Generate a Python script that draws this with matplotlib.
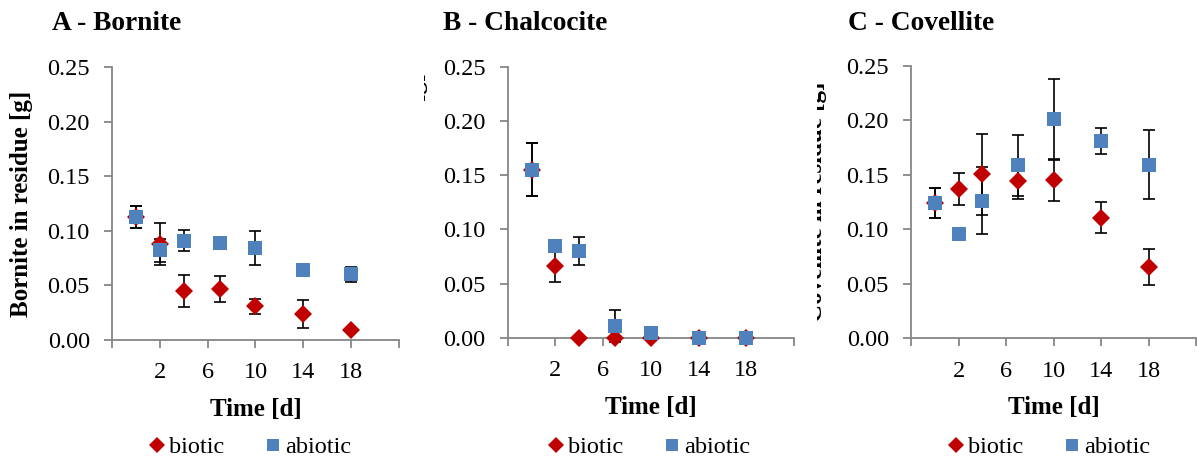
import matplotlib
matplotlib.use("Agg")
import matplotlib.pyplot as plt
from matplotlib.lines import Line2D
from matplotlib.transforms import Bbox, TransformedBbox

# ---------------- data ----------------
days = [0, 2, 4, 7, 10, 14, 18]

bornite_biotic = [0.113, 0.088, 0.045, 0.047, 0.031, 0.024, 0.009]
bornite_biotic_err = [0.010, 0.0195, 0.0145, 0.012, 0.007, 0.013, 0.002]
bornite_abiotic = [0.113, 0.082, 0.091, 0.089, 0.084, 0.064, 0.060]
bornite_abiotic_err = [0.010, 0.0106, 0.0095, 0.002, 0.0155, 0.002, 0.007]

chalcocite_biotic = [0.155, 0.066, 0.0, 0.0, 0.0, 0.0, 0.0]
chalcocite_biotic_err = [0.0245, 0.015, 0.0, 0.0, 0.0, 0.0, 0.0]
chalcocite_abiotic = [0.155, 0.085, 0.080, 0.011, 0.004, 0.0, 0.0]
chalcocite_abiotic_err = [0.0245, 0.003, 0.0125, 0.015, 0.002, 0.0, 0.0]

covellite_biotic = [0.124, 0.137, 0.1506, 0.1444, 0.1454, 0.1108, 0.0658]
covellite_biotic_err = [0.014, 0.015, 0.037, 0.0166, 0.019, 0.014, 0.0165]
covellite_abiotic = [0.124, 0.0958, 0.1264, 0.159, 0.201, 0.181, 0.1594]
covellite_abiotic_err = [0.014, 0.002, 0.031, 0.028, 0.037, 0.012, 0.0315]

titles = ["A - Bornite", "B - Chalcocite", "C - Covellite"]
ylabels = ["Bornite in residue [g]", "Chalcocite in residue [g]", "Covellite in residue [g]"]
series_labels = ["biotic", "abiotic"]
x_ticks = [-2, 2, 6, 10, 14, 18, 22]
x_ticklabels = ["", "2", "6", "10", "14", "18", ""]
y_ticks = [0.0, 0.05, 0.10, 0.15, 0.20, 0.25]

panels = [
    (bornite_biotic, bornite_biotic_err, bornite_abiotic, bornite_abiotic_err),
    (chalcocite_biotic, chalcocite_biotic_err, chalcocite_abiotic, chalcocite_abiotic_err),
    (covellite_biotic, covellite_biotic_err, covellite_abiotic, covellite_abiotic_err),
]

# ---------------- style ----------------
W, H = 1197, 463
RED = "#C00000"
BLUE = "#4F81BD"
GRAY = "#868686"
SERIF = ["Liberation Serif", "DejaVu Serif"]
plt.rcParams["font.family"] = SERIF

fig = plt.figure(figsize=(W / 100, H / 100), dpi=100)

# axes boxes in pixels: left, right, top, bottom
boxes = [(112, 399, 67, 340), (507.7, 794, 66.7, 337.7), (911, 1196, 66, 338.3)]
title_x = [52, 443, 848]
ylabel_base_x = [27.7, 423.5, 822.0]
ylabel_clip_left = [0, 424, 816.5]
legend_cx = [250, 649, 1049]

for i, (bio, bio_e, abio, abio_e) in enumerate(panels):
    l, r, t, b = boxes[i]
    ax = fig.add_axes([l / W, 1 - b / H, (r - l) / W, (b - t) / H])
    ax.set_xlim(-2, 22)
    ax.set_ylim(0, 0.25)
    for s in ["top", "right"]:
        ax.spines[s].set_visible(False)
    for s in ["left", "bottom"]:
        ax.spines[s].set_color(GRAY)
        ax.spines[s].set_linewidth(1.3)
    ax.set_xticks(x_ticks)
    ax.set_xticklabels(x_ticklabels)
    ax.set_yticks(y_ticks)
    ax.set_yticklabels([f"{v:.2f}" for v in y_ticks])
    ax.tick_params(axis="both", direction="out", length=5.5, width=1.3,
                   color=GRAY, labelsize=17.5, pad=10.5)
    ax.patch.set_alpha(0)

    # error bars
    ax.errorbar(days, bio, yerr=bio_e, fmt="none", ecolor="black",
                elinewidth=1.2, capsize=4.5, capthick=1.2, zorder=2, clip_on=False)
    ax.errorbar(days, abio, yerr=abio_e, fmt="none", ecolor="black",
                elinewidth=1.2, capsize=4.5, capthick=1.2, zorder=2, clip_on=False)
    ax.plot(days, bio, linestyle="none", marker="D", markersize=9.5,
            color=RED, markeredgewidth=0, zorder=3, clip_on=False)
    ax.plot(days, abio, linestyle="none", marker="s", markersize=10,
            color=BLUE, markeredgewidth=0, zorder=4, clip_on=False)

    ax.set_xlabel("Time [d]", fontsize=18, fontweight="bold", labelpad=10.5)

    # title
    fig.text(title_x[i] / W, 1 - 30 / H, titles[i], fontsize=19.7,
             fontweight="bold", ha="left", va="baseline")

    # y label (partly hidden for B and C, as in the reference)
    cy = (t + b) / 2
    txt = fig.text(ylabel_base_x[i] / W, 1 - cy / H, ylabels[i], fontsize=18,
                   fontweight="bold", rotation=90, rotation_mode="anchor",
                   ha="center", va="baseline")
    if ylabel_clip_left[i] > 0:
        bb = TransformedBbox(Bbox.from_extents(ylabel_clip_left[i] / W, 0, 1, 1),
                             fig.transFigure)
        txt.set_clip_box(bb)
        txt.set_clip_on(True)

    handles = [
        Line2D([], [], linestyle="none", marker="D", markersize=8.5, color=RED,
               markeredgewidth=0),
        Line2D([], [], linestyle="none", marker="s", markersize=9, color=BLUE,
               markeredgewidth=0),
    ]
    fig.legend(handles, series_labels, loc="center",
               bbox_to_anchor=(legend_cx[i] / W, 1 - 447 / H), ncol=2,
               frameon=False, fontsize=17.5, handlelength=0.7,
               handletextpad=0.15, columnspacing=1.65, borderpad=0, borderaxespad=0)

fig.savefig("out.png", dpi=100)
